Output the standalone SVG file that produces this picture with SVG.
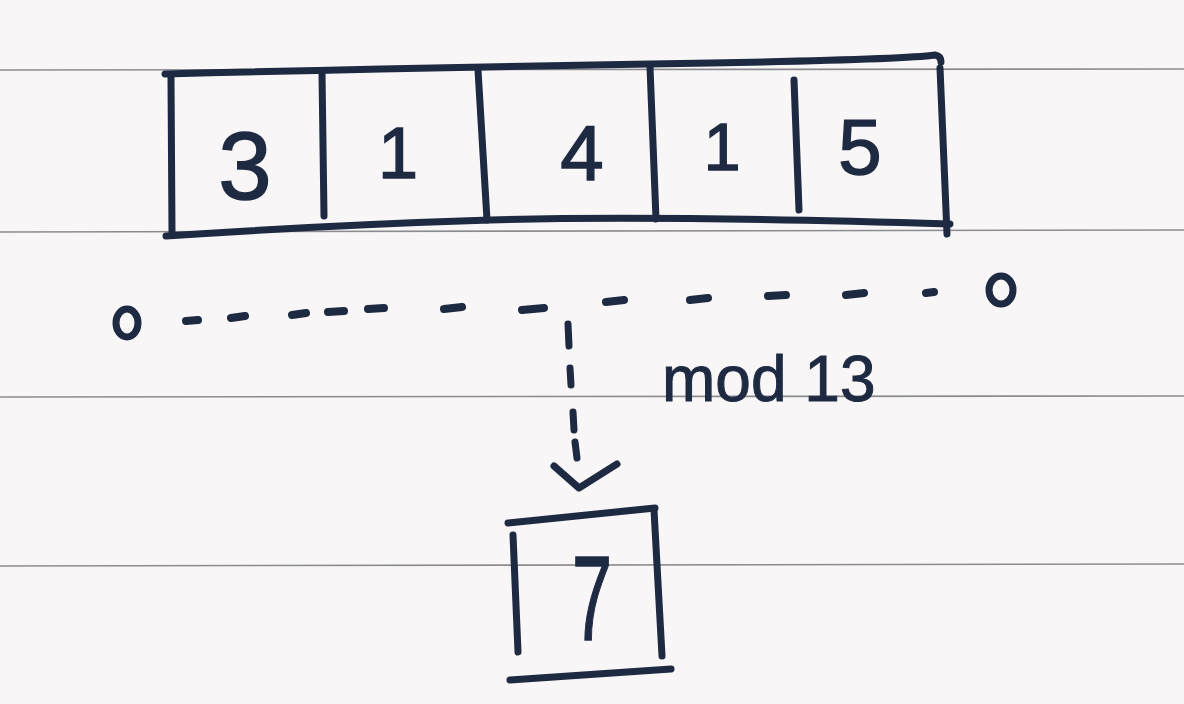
<svg xmlns="http://www.w3.org/2000/svg" width="1184" height="704" viewBox="0 0 1184 704">
  <defs>
    <style>
      .rule { stroke: #8c8c90; stroke-width: 1.6; fill: none; }
      .ink { stroke: #1e2a42; stroke-width: 7; fill: none; stroke-linecap: round; stroke-linejoin: round; }
      .dash { stroke: #1e2a42; stroke-width: 8; fill: none; stroke-linecap: round; }
      .digit { font-family: "Liberation Sans", "DejaVu Sans", sans-serif; fill: #1e2a42; stroke: #1e2a42; stroke-width: 1.5; text-anchor: middle; }
      .label { font-family: "Liberation Sans", "DejaVu Sans", sans-serif; fill: #1e2a42; stroke: #1e2a42; stroke-width: 1; font-size: 64px; }
    </style>
  </defs>
  <rect width="1184" height="704" fill="#f8f6f6"/>
  <!-- ruled paper lines -->
  <g id="paper">
    <line class="rule" x1="0" y1="70" x2="1184" y2="69"/>
    <line class="rule" x1="0" y1="232" x2="1184" y2="230"/>
    <line class="rule" x1="0" y1="397" x2="1184" y2="396"/>
    <line class="rule" x1="0" y1="566" x2="1184" y2="564"/>
  </g>

  <!-- array of cells -->
  <g id="array">
    <path class="ink" d="M165 74 Q400 68 650 64 T935 55 Q941 56 941 62"/>
    <path class="ink" d="M166 236 Q330 225 490 220 T950 224"/>
    <g id="cell-3">
      <path class="ink" d="M171 77 L172 233"/>
      <text class="digit" x="245" y="199" font-size="96">3</text>
    </g>
    <g id="cell-1a">
      <path class="ink" d="M322 73 L324 216"/>
      <text class="digit" x="398" y="178" font-size="72">1</text>
    </g>
    <g id="cell-4">
      <path class="ink" d="M478 70 L487 220"/>
      <text class="digit" x="582" y="180" font-size="78">4</text>
    </g>
    <g id="cell-1b">
      <path class="ink" d="M650 67 L656 219"/>
      <text class="digit" x="722" y="170" font-size="66">1</text>
    </g>
    <g id="cell-5">
      <path class="ink" d="M794 80 L799 210"/>
      <text class="digit" x="860" y="174" font-size="78">5</text>
      <path class="ink" d="M940 68 L947 234"/>
    </g>
  </g>

  <!-- endpoints of the dashed line -->
  <g id="start-point">
    <ellipse class="ink" cx="127" cy="323" rx="11" ry="14"/>
  </g>
  <g id="end-point">
    <ellipse class="ink" cx="1001" cy="290" rx="12" ry="14"/>
  </g>

  <!-- connectors -->
  <g id="connectors">
    <path class="dash" d="M186 321 L198 320 M231 318 L245 316 M292 315 L306 313 M328 312 L344 311 M368 309 L384 308 M444 309 L462 307 M522 310 L544 308 M606 302 L624 300 M690 300 L708 298 M768 296 L786 295 M846 295 L864 293 M926 293 L934 292"/>
    <path class="ink" d="M568 324 L569 346 M570 368 L571 385 M573 412 L574 430 M575 442 L577 458"/>
    <path class="ink" d="M554 466 L579 488 L617 464"/>
    <text class="label" x="662" y="401">mod 13</text>
  </g>

  <!-- result box -->
  <g id="result">
    <path class="ink" d="M508 523 L655 508"/>
    <path class="ink" d="M513 535 L518 652"/>
    <path class="ink" d="M654 510 L662 656"/>
    <path class="ink" d="M510 680 L671 669"/>
    <text class="digit" x="0" y="0" font-size="120" transform="translate(592 640) scale(0.6 1)">7</text>
  </g>
</svg>
